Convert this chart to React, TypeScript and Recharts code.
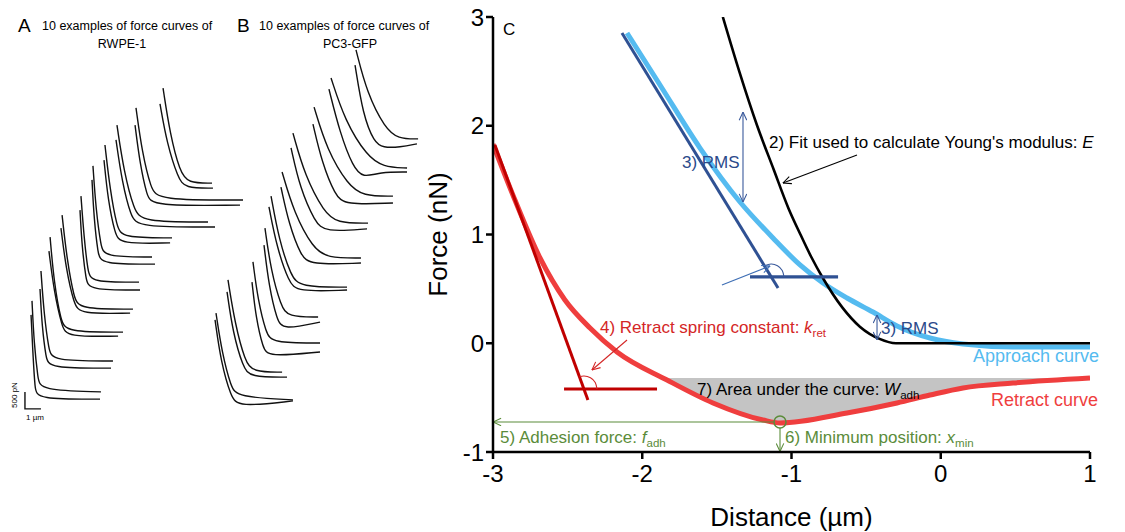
import React from "react";
import {
  ComposedChart,
  LineChart,
  Line,
  Area,
  XAxis,
  YAxis,
  ReferenceLine,
  ReferenceDot,
} from "recharts";

type Pt = [number, number];

const FONT = '"Liberation Sans", Arial, Helvetica, sans-serif';

// ---- panels A / B : stacked example force curves (x in µm, y in nN, offsets included)
const rwpeCurves: Pt[][] = [
  [[10.19, 9.22], [10.63, 7.94], [11.25, 6.89], [11.75, 6.58], [13.25, 6.58]],
  [[10.0, 8.78], [10.44, 7.67], [11.13, 6.72], [11.56, 6.44], [13.31, 6.44]],
  [[8.5, 8.67], [8.88, 7.44], [9.44, 6.42], [9.88, 6.11], [15.19, 6.11]],
  [[8.44, 8.19], [8.75, 7.11], [9.19, 6.22], [9.5, 5.94], [15.0, 5.97]],
  [[7.31, 8.19], [7.75, 6.89], [8.38, 5.83], [8.88, 5.5], [13.0, 5.5]],
  [[7.25, 7.78], [7.63, 6.61], [8.19, 5.64], [8.63, 5.36], [13.44, 5.36]],
  [[6.56, 7.64], [6.88, 6.39], [7.31, 5.36], [7.63, 5.06], [10.75, 5.06]],
  [[6.5, 7.22], [6.75, 6.11], [7.19, 5.17], [7.5, 4.89], [10.63, 4.92]],
  [[5.81, 7.06], [6.0, 5.83], [6.31, 4.83], [6.5, 4.53], [9.5, 4.53]],
  [[5.75, 6.67], [5.88, 5.56], [6.13, 4.61], [6.31, 4.33], [9.69, 4.33]],
  [[5.06, 6.22], [5.25, 5.08], [5.5, 4.11], [5.69, 3.83], [8.69, 3.83]],
  [[5.0, 5.83], [5.13, 4.78], [5.38, 3.89], [5.56, 3.61], [8.75, 3.61]],
  [[3.88, 5.69], [4.19, 4.44], [4.63, 3.39], [4.94, 3.08], [8.31, 3.08]],
  [[3.81, 5.33], [4.13, 4.19], [4.63, 3.22], [5.0, 2.94], [8.13, 2.97]],
  [[3.13, 5.08], [3.38, 3.81], [3.81, 2.75], [4.13, 2.44], [7.69, 2.44]],
  [[3.06, 4.69], [3.38, 3.56], [3.88, 2.58], [4.19, 2.31], [7.38, 2.33]],
  [[2.56, 4.14], [2.75, 2.94], [3.06, 1.94], [3.25, 1.64], [7.06, 1.64]],
  [[2.5, 3.64], [2.63, 2.58], [2.88, 1.72], [3.06, 1.44], [6.94, 1.44]],
  [[2.0, 3.31], [2.13, 2.11], [2.38, 1.14], [2.5, 0.83], [6.31, 0.78]],
  [[1.94, 2.92], [2.06, 1.81], [2.19, 0.86], [2.31, 0.58], [6.25, 0.58]],
];

const pc3Curves: Pt[][] = [
  [[9.75, 10.28], [10.44, 9.08], [11.56, 8.11], [12.38, 7.81], [13.63, 7.81]],
  [[9.69, 9.86], [10.19, 8.47], [10.88, 7.72], [11.44, 7.56], [12.5, 7.58], [13.56, 7.67]],
  [[8.19, 9.5], [9.06, 8.31], [10.44, 7.33], [11.44, 7.03], [12.94, 7.0]],
  [[8.06, 9.19], [8.75, 7.97], [9.56, 7.03], [10.19, 6.72], [11.25, 6.89], [12.94, 6.89]],
  [[7.13, 8.69], [7.94, 7.5], [9.25, 6.53], [10.19, 6.22], [12.06, 6.22]],
  [[7.06, 8.22], [7.63, 7.14], [8.44, 6.25], [9.06, 5.97], [12.06, 6.03]],
  [[5.81, 7.97], [6.56, 6.78], [7.75, 5.78], [8.56, 5.47], [10.5, 5.47]],
  [[5.69, 7.56], [6.25, 6.44], [7.19, 5.5], [7.81, 5.22], [10.44, 5.31]],
  [[5.13, 6.89], [5.88, 5.75], [7.06, 4.78], [7.94, 4.5], [10.06, 4.5]],
  [[5.06, 6.47], [5.56, 5.44], [6.31, 4.56], [6.88, 4.31], [10.06, 4.36]],
  [[4.44, 6.22], [4.94, 5.0], [5.69, 4.0], [6.25, 3.69], [9.19, 3.69]],
  [[4.31, 5.92], [4.81, 4.78], [5.56, 3.83], [6.06, 3.56], [9.19, 3.61]],
  [[4.06, 5.33], [4.44, 4.14], [5.06, 3.17], [5.5, 2.86], [7.38, 2.86]],
  [[4.0, 4.86], [4.31, 3.72], [4.81, 2.78], [5.19, 2.5], [7.5, 2.72]],
  [[3.31, 4.39], [3.63, 3.31], [4.13, 2.42], [4.5, 2.14], [7.5, 2.14]],
  [[3.25, 3.83], [3.5, 2.83], [3.94, 2.0], [4.25, 1.75], [7.5, 1.89]],
  [[1.75, 3.89], [2.19, 2.67], [2.81, 1.64], [3.31, 1.33], [5.13, 1.33]],
  [[1.69, 3.56], [2.06, 2.42], [2.69, 1.47], [3.13, 1.19], [5.44, 1.19]],
  [[1.0, 2.97], [1.38, 1.86], [1.94, 0.92], [2.31, 0.64], [5.81, 0.56]],
  [[0.94, 2.78], [1.31, 1.61], [1.94, 0.64], [2.38, 0.36], [5.81, 0.53]],
];

const scaleBar: Pt[] = [[1.56, 0.78], [1.56, 0.31], [2.56, 0.31]];

// ---- panel C
const xTicks = [-3, -2, -1, 0, 1];
const yTicks = [-1, 0, 1, 2, 3];

const approachCurve: Pt[] = [
  [-2.102, 2.853], [-1.881, 2.375], [-1.613, 1.795], [-1.345, 1.299], [-1.124, 0.968],
  [-0.943, 0.72], [-0.789, 0.554], [-0.628, 0.416], [-0.454, 0.287], [-0.293, 0.159],
  [-0.072, 0.048], [0.149, -0.007], [0.484, -0.034], [1.0, -0.034],
];

const fitCurve: Pt[] = [
  [-1.46, 3.0], [-1.35, 2.5], [-1.23, 2.0], [-1.12, 1.6], [-1.02, 1.24], [-0.94, 1.0],
  [-0.87, 0.8], [-0.79, 0.6], [-0.66, 0.33], [-0.54, 0.15], [-0.41, 0.04], [-0.3, 0], [1.0, 0],
];

const retractCurve: Pt[] = [
  [-3.0, 1.83], [-2.853, 1.317], [-2.685, 0.784], [-2.518, 0.398], [-2.35, 0.14],
  [-2.169, -0.08], [-1.834, -0.338], [-1.526, -0.549], [-1.191, -0.706], [-1.077, -0.733],
  [-0.628, -0.641], [-0.293, -0.549], [-0.072, -0.476], [0.149, -0.411], [0.484, -0.366], [1.0, -0.32],
];

const areaBaseline = -0.32;
const adhesionArea: Pt[] = [
  [-1.86, -0.32], [-1.834, -0.338], [-1.526, -0.549], [-1.191, -0.706], [-1.077, -0.733],
  [-0.628, -0.641], [-0.293, -0.549], [-0.072, -0.476], [0.149, -0.411], [0.484, -0.366], [1.0, -0.32],
];

const approachTangent: Pt[] = [[-2.136, 2.853], [-1.09, 0.508]];
const approachLevel: Pt[] = [[-1.278, 0.61], [-0.688, 0.61]];
const approachAngle: Pt[] = [[-1.05, 0.609], [-1.062, 0.669], [-1.094, 0.713], [-1.137, 0.729], [-1.181, 0.713]];

const retractTangent: Pt[] = [[-2.987, 1.823], [-2.364, -0.522]];
const retractLevel: Pt[] = [[-2.524, -0.42], [-1.901, -0.42]];
const retractAngle: Pt[] = [[-2.303, -0.421], [-2.315, -0.361], [-2.347, -0.317], [-2.39, -0.301], [-2.42, -0.308]];

const fitArrow: Pt[] = [[-0.561, 1.731], [-1.057, 1.474]];
const rmsArrowUpper: Pt[] = [[-1.325, 2.126], [-1.325, 1.299]];
const rmsArrowLower: Pt[] = [[-0.427, 0.26], [-0.427, 0.03]];
const angleArrow: Pt[] = [[-1.466, 0.536], [-1.144, 0.71]];
const springArrow: Pt[] = [[-2.102, 0.03], [-2.337, -0.246]];
const adhesionArrow: Pt[] = [[-1.117, -0.724], [-3.0, -0.724]];
const minimumArrow: Pt[] = [[-1.077, -0.779], [-1.077, -0.995]];
const minimumPoint: Pt = [-1.077, -0.724];

const rows = (pts: Pt[]) => pts.map(([x, y]) => ({ x, y }));

const C = {
  approach: "#55bbf0",
  retract: "#ef3e3e",
  navy: "#2f5193",
  navyText: "#2b4a8a",
  darkRed: "#c00000",
  redText: "#d42626",
  green: "#5b8c3a",
  grey: "#c4c4c4",
};

function CurvePanel({ curves, left, children }: { curves: Pt[][]; left: number; children?: React.ReactNode }) {
  return (
    <div style={{ position: "absolute", left, top: 0 }}>
      <LineChart width={250} height={420} margin={{ top: 0, right: 0, bottom: 0, left: 0 }}>
        <XAxis type="number" dataKey="x" domain={[0, 15.625]} hide allowDataOverflow />
        <YAxis type="number" domain={[0, 11.667]} hide allowDataOverflow />
        {curves.map((c, i) => (
          <Line
            key={i}
            data={rows(c)}
            dataKey="y"
            type="basis"
            stroke="#111"
            strokeWidth={1.4}
            dot={false}
            activeDot={false}
            isAnimationActive={false}
          />
        ))}
        {children}
      </LineChart>
    </div>
  );
}

function Note({ left, top, color = "#000", size = 17, children }: any) {
  return (
    <div
      style={{
        position: "absolute",
        left,
        top,
        color,
        fontSize: size,
        lineHeight: 1,
        whiteSpace: "nowrap",
        fontFamily: FONT,
      }}
    >
      {children}
    </div>
  );
}

const Sub = ({ children }: any) => (
  <span style={{ fontSize: "0.68em", position: "relative", top: "0.35em" }}>{children}</span>
);

function Head({ id, color }: { id: string; color: string }) {
  return (
    <marker
      id={id}
      viewBox="0 0 10 10"
      refX="9.5"
      refY="5"
      markerWidth="9"
      markerHeight="9"
      markerUnits="userSpaceOnUse"
      orient="auto-start-reverse"
    >
      <path d="M0.5,0.8 L9.5,5 L0.5,9.2" fill="none" stroke={color} strokeWidth="1.2" />
    </marker>
  );
}

export default function App() {
  const axisStyle = { stroke: "#000", strokeWidth: 2.5 };
  const thin = { ifOverflow: "visible" as const, strokeWidth: 1.1 };
  const plain = { dot: false, activeDot: false, isAnimationActive: false };
  return (
    <div style={{ position: "absolute", left: 0, top: 0, width: 1125, height: 532, background: "#fff", fontFamily: FONT }}>
      <div style={{ position: "absolute", left: 0, top: 0 }}>
        <ComposedChart width={1125} height={532} margin={{ top: 17, right: 35, bottom: 50, left: 433 }}>
          <defs>
            <Head id="h-black" color="#000" />
            <Head id="h-navy" color="#3a5a9c" />
            <Head id="h-blue" color="#3f6fb5" />
            <Head id="h-red" color="#d42626" />
            <Head id="h-green" color={C.green} />
          </defs>
          <XAxis
            type="number"
            dataKey="x"
            domain={[-3, 1]}
            ticks={xTicks}
            allowDataOverflow
            height={30}
            tickSize={7}
            tickMargin={6}
            tick={{ fill: "#000", fontSize: 24 }}
            axisLine={axisStyle}
            tickLine={axisStyle}
            label={{ value: "Distance (µm)", position: "bottom", offset: 26, fill: "#000", fontSize: 26 }}
          />
          <YAxis
            type="number"
            domain={[-1, 3]}
            ticks={yTicks}
            allowDataOverflow
            width={60}
            tickSize={7}
            tick={{ fill: "#000", fontSize: 24 }}
            axisLine={axisStyle}
            tickLine={axisStyle}
            label={{
              content: (p: any) => {
                const vb = p.viewBox || { x: 433, y: 17, width: 60, height: 435 };
                const cx = vb.x + 5;
                const cy = vb.y + vb.height / 2;
                return (
                  <text
                    x={cx}
                    y={cy}
                    transform={`rotate(-90 ${cx} ${cy})`}
                    textAnchor="middle"
                    dominantBaseline="central"
                    fontSize={26}
                    fill="#000"
                  >
                    Force (nN)
                  </text>
                );
              },
            }}
          />

          <Area
            data={adhesionArea.map(([x, y]) => ({ x, range: [y, areaBaseline] }))}
            dataKey="range"
            type="monotone"
            stroke="none"
            fill={C.grey}
            fillOpacity={1}
            activeDot={false}
            isAnimationActive={false}
          />

          <Line data={rows(retractCurve)} dataKey="y" type="monotone" stroke={C.retract} strokeWidth={5} {...plain} />
          <Line data={rows(retractTangent)} dataKey="y" type="linear" stroke={C.darkRed} strokeWidth={3} {...plain} />
          <Line data={rows(retractLevel)} dataKey="y" type="linear" stroke={C.darkRed} strokeWidth={3} {...plain} />
          <Line data={rows(retractAngle)} dataKey="y" type="natural" stroke="#d42626" strokeWidth={1.1} {...plain} />

          <Line data={rows(approachCurve)} dataKey="y" type="monotone" stroke={C.approach} strokeWidth={5} {...plain} />
          <Line data={rows(approachTangent)} dataKey="y" type="linear" stroke={C.navy} strokeWidth={3} {...plain} />
          <Line data={rows(fitCurve)} dataKey="y" type="monotone" stroke="#000" strokeWidth={2.6} {...plain} />
          <Line data={rows(approachLevel)} dataKey="y" type="linear" stroke={C.navy} strokeWidth={3.2} {...plain} />
          <Line data={rows(approachAngle)} dataKey="y" type="natural" stroke="#3a5a9c" strokeWidth={1.1} {...plain} />

          <ReferenceLine segment={rows(fitArrow)} stroke="#000" markerEnd="url(#h-black)" {...thin} />
          <ReferenceLine segment={rows(rmsArrowUpper)} stroke="#3a5a9c" markerStart="url(#h-navy)" markerEnd="url(#h-navy)" {...thin} />
          <ReferenceLine segment={rows(rmsArrowLower)} stroke="#3a5a9c" markerStart="url(#h-navy)" markerEnd="url(#h-navy)" {...thin} />
          <ReferenceLine segment={rows(angleArrow)} stroke="#3f6fb5" markerEnd="url(#h-blue)" {...thin} />
          <ReferenceLine segment={rows(springArrow)} stroke="#d42626" markerEnd="url(#h-red)" {...thin} />
          <ReferenceLine segment={rows(adhesionArrow)} stroke={C.green} markerEnd="url(#h-green)" {...thin} />
          <ReferenceLine segment={rows(minimumArrow)} stroke={C.green} markerEnd="url(#h-green)" {...thin} />
          <ReferenceDot x={minimumPoint[0]} y={minimumPoint[1]} r={6} fill="none" stroke={C.green} strokeWidth={1.5} ifOverflow="visible" />
        </ComposedChart>
      </div>

      <CurvePanel curves={rwpeCurves} left={0}>
        <Line data={rows(scaleBar)} dataKey="y" type="linear" stroke="#111" strokeWidth={1.4} strokeLinecap="butt" dot={false} activeDot={false} isAnimationActive={false} />
      </CurvePanel>
      <CurvePanel curves={pc3Curves} left={200} />

      {/* panel titles */}
      <Note left={18} top={16} size={19}>A</Note>
      <Note left={42} top={20} size={12.5}>10 examples of force curves of</Note>
      <div style={{ position: "absolute", left: 72, width: 100, top: 38, textAlign: "center", fontSize: 12.5, lineHeight: 1, fontFamily: FONT }}>RWPE-1</div>
      <Note left={237} top={16} size={19}>B</Note>
      <Note left={259} top={20} size={12.5}>10 examples of force curves of</Note>
      <div style={{ position: "absolute", left: 300, width: 100, top: 38, textAlign: "center", fontSize: 12.5, lineHeight: 1, fontFamily: FONT }}>PC3-GFP</div>

      {/* scale bar labels */}
      <div style={{ position: "absolute", left: -8, top: 391, width: 46, textAlign: "center", fontSize: 8, lineHeight: 1, transform: "rotate(-90deg)", fontFamily: FONT }}>500 pN</div>
      <Note left={26} top={414} size={8}>1 µm</Note>

      {/* panel C annotations */}
      <Note left={503} top={21} size={17}>C</Note>
      <Note left={682} top={154} color={C.navyText}>3) RMS</Note>
      <Note left={769} top={134}>2) Fit used to calculate Young's modulus: <i>E</i></Note>
      <Note left={881} top={320} color={C.navyText}>3) RMS</Note>
      <Note left={973} top={347} size={18} color={C.approach}>Approach curve</Note>
      <Note left={991} top={391} size={18} color={C.retract}>Retract curve</Note>
      <Note left={600} top={319} color={C.redText}>4) Retract spring constant: <i>k</i><Sub>ret</Sub></Note>
      <Note left={697} top={381}>7) Area under the curve: <i>W</i><Sub>adh</Sub></Note>
      <Note left={500} top={429} color={C.green}>5) Adhesion force: <i>f</i><Sub>adh</Sub></Note>
      <Note left={785} top={429} color={C.green}>6) Minimum position: <i>x</i><Sub>min</Sub></Note>
    </div>
  );
}
